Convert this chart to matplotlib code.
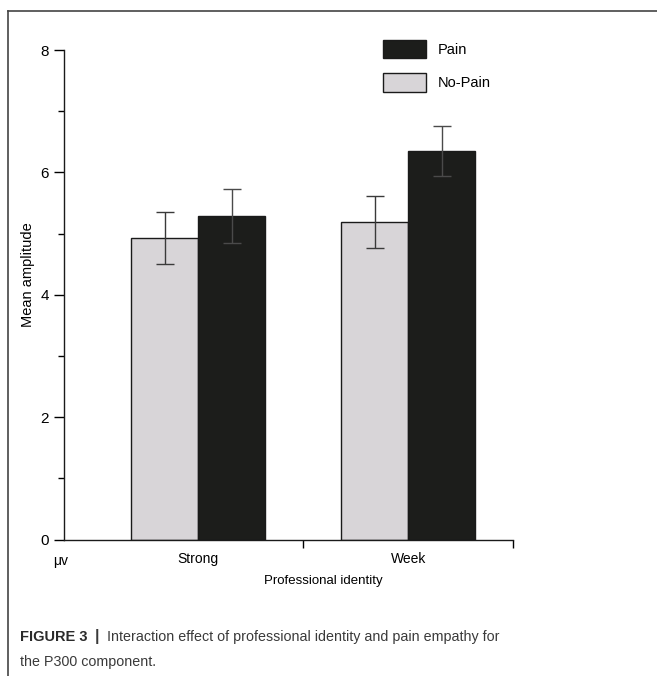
import matplotlib.pyplot as plt
import numpy as np
from matplotlib.lines import Line2D

groups = ['Strong', 'Week']
nopain = [4.93, 5.19]
nopain_err = [0.42, 0.42]
pain = [5.29, 6.35]
pain_err = [0.44, 0.41]

plt.rcParams['font.family'] = ['Liberation Sans', 'DejaVu Sans']

fig = plt.figure(figsize=(6.57, 6.76), dpi=100)
ax = fig.add_axes([0.0974, 0.2019, 0.6836, 0.7241])

x = np.arange(1, len(groups) + 1)
w = 0.32
ekw = dict(ecolor='#3a3a3a', elinewidth=1.0, capsize=6.5, capthick=1.0)
ax.bar(x - w/2, nopain, w, yerr=nopain_err, color='#d8d5d8', edgecolor='#1a1a1a',
       lw=1.0, error_kw=ekw, label='No-Pain')
ax.bar(x + w/2, pain, w, yerr=pain_err, color='#1c1d1b', edgecolor='#1a1a1a',
       lw=1.0, error_kw=dict(ekw, ecolor='#4a4a4a'), label='Pain')

ax.set_xlim(0.36, 2.5)
ax.set_ylim(0, 8)
for s in ['top', 'right']:
    ax.spines[s].set_visible(False)
for s in ['left', 'bottom']:
    ax.spines[s].set_linewidth(1.0)
    ax.spines[s].set_color('#1a1a1a')

ax.set_yticks([0, 2, 4, 6, 8])
ax.set_yticks([1, 3, 5, 7], minor=True)
ax.tick_params(axis='y', which='major', length=7, width=1, labelsize=11, pad=4)
ax.tick_params(axis='y', which='minor', length=4, width=1)
ax.set_xticks(x)
ax.set_xticklabels(groups)
ax.set_xticks([1.5, 2.5], minor=True)
ax.tick_params(axis='x', which='major', length=0, labelsize=10, pad=9)
ax.tick_params(axis='x', which='minor', length=6, width=1)

ax.set_ylabel('Mean amplitude', fontsize=10.5)
ax.yaxis.set_label_coords(-36/449, (540 - 275)/490)
ax.set_xlabel('Professional identity', fontsize=9.5)
ax.xaxis.set_label_coords((323 - 64)/449, -(582 - 540)/490)
ax.xaxis.label.set_va('center')
ax.yaxis.label.set_va('center')
ax.text(-0.025, -0.03, 'μv', transform=ax.transAxes, fontsize=10, ha='left', va='top')

h, l = ax.get_legend_handles_labels()
ax.legend(h[::-1], l[::-1], loc='upper left', bbox_to_anchor=(0.68, 1.048), frameon=False,
          fontsize=10.5, handlelength=3.0, handleheight=1.6, labelspacing=1.0,
          handletextpad=0.8)

# outer frame (cropped at right and bottom)
fig.add_artist(Line2D([8/657, 8/657], [0, 1 - 11/676], transform=fig.transFigure,
                      color='#444444', lw=1.2))
fig.add_artist(Line2D([8/657, 1], [1 - 11/676, 1 - 11/676], transform=fig.transFigure,
                      color='#444444', lw=1.2))

fig.text(20/657, 1 - 637/676, 'FIGURE 3', fontsize=10.5, fontweight='bold',
         color='#2a2a2a', va='center', ha='left')
fig.text(95/657, 1 - 637/676, '|', fontsize=11.5, fontweight='bold', color='#3a3a3a',
         va='center', ha='left')
fig.text(107/657, 1 - 637/676, 'Interaction effect of professional identity and pain empathy for',
         fontsize=10.3, color='#3a3a3a', va='center', ha='left')
fig.text(20/657, 1 - 662/676, 'the P300 component.', fontsize=10.3, color='#3a3a3a',
         va='center', ha='left')

fig.savefig('out.png', dpi=100)
